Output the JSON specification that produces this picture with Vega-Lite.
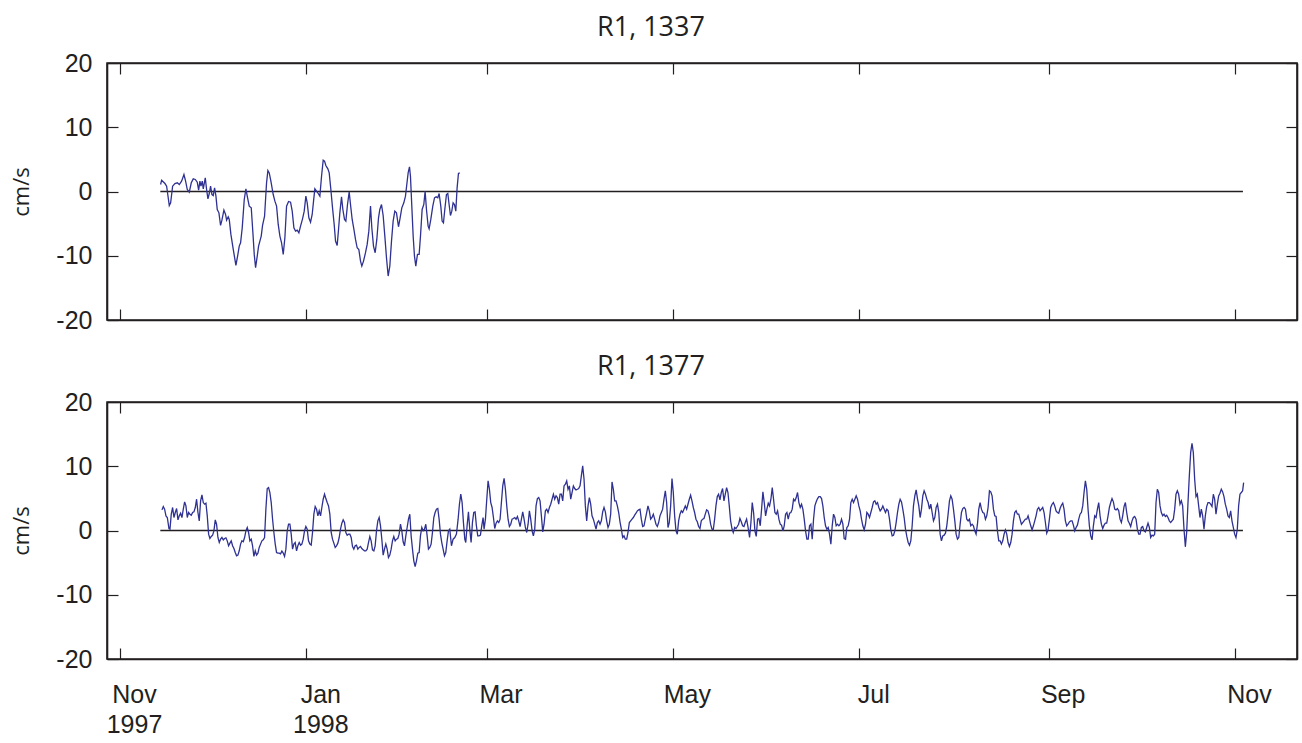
{
  "$schema": "https://vega.github.io/schema/vega-lite/v6.json",
  "background": "white",
  "padding": {"left": 10, "top": 13, "right": 4, "bottom": 4},
  "spacing": 18,
  "config": {
    "font": "Liberation Sans",
    "view": {"stroke": "#231F20", "strokeWidth": 1.6},
    "axis": {
      "grid": false,
      "domainColor": "#231F20",
      "domainWidth": 1.6,
      "tickColor": "#231F20",
      "tickWidth": 1.2,
      "tickSize": -11,
      "labelFont": "Liberation Sans",
      "labelFontSize": 25,
      "labelColor": "#231F20",
      "labelFlush": false,
      "labelOverlap": false,
      "titleFont": "Open Sans",
      "titleFontSize": 22,
      "titleFontWeight": "normal",
      "titleColor": "#231F20"
    },
    "title": {"font": "Open Sans", "fontSize": 27, "fontWeight": "normal", "color": "#231F20", "baseline": "alphabetic", "offset": 9, "dx": -51}
  },
  "datasets": {
    "zero_line": [{"start": 13.2, "end": 367.6, "level": 0}],
    "r1_1337": [
      {"day":13.30,"v":1.09},{"day":13.63,"v":1.76},{"day":14.72,"v":1.24},{"day":15.27,"v":0.83},{"day":16.14,"v":-2.18},{"day":16.58,"v":-1.76},{"day":17.23,"v":0.83},{"day":17.99,"v":1.24},{"day":18.76,"v":1.35},{"day":19.41,"v":1.09},{"day":20.17,"v":1.61},{"day":20.94,"v":2.64},{"day":21.48,"v":1.61},{"day":22.03,"v":0.31},{"day":22.68,"v":-0.10},{"day":23.34,"v":1.35},{"day":23.99,"v":1.97},{"day":24.65,"v":1.87},{"day":25.30,"v":1.45},{"day":25.74,"v":0.21},{"day":26.17,"v":1.61},{"day":26.50,"v":0.83},{"day":26.94,"v":1.61},{"day":27.26,"v":0.41},{"day":27.92,"v":2.12},{"day":28.35,"v":0.31},{"day":28.79,"v":-1.14},{"day":29.23,"v":-0.31},{"day":29.66,"v":0.83},{"day":30.10,"v":-0.47},{"day":30.53,"v":-0.62},{"day":30.97,"v":0.57},{"day":31.41,"v":-0.73},{"day":31.84,"v":-2.80},{"day":32.39,"v":-3.32},{"day":32.93,"v":-5.28},{"day":33.37,"v":-4.46},{"day":34.02,"v":-2.90},{"day":34.57,"v":-3.58},{"day":34.90,"v":-4.46},{"day":35.44,"v":-3.94},{"day":35.77,"v":-4.35},{"day":36.31,"v":-6.68},{"day":37.08,"v":-9.02},{"day":37.95,"v":-11.50},{"day":38.60,"v":-9.79},{"day":39.04,"v":-8.50},{"day":39.48,"v":-7.98},{"day":40.02,"v":-5.65},{"day":40.68,"v":-1.24},{"day":41.22,"v":0.41},{"day":41.66,"v":-0.73},{"day":42.31,"v":-2.28},{"day":42.97,"v":-2.54},{"day":43.51,"v":-6.42},{"day":43.95,"v":-9.79},{"day":44.39,"v":-11.87},{"day":44.93,"v":-10.05},{"day":45.37,"v":-8.50},{"day":45.80,"v":-7.72},{"day":46.24,"v":-6.94},{"day":46.67,"v":-5.28},{"day":47.33,"v":-3.83},{"day":47.98,"v":1.35},{"day":48.42,"v":3.26},{"day":48.86,"v":2.90},{"day":49.40,"v":1.61},{"day":50.16,"v":-0.47},{"day":50.71,"v":-1.50},{"day":51.26,"v":-2.28},{"day":51.80,"v":-5.13},{"day":52.35,"v":-6.94},{"day":52.89,"v":-7.98},{"day":53.44,"v":-9.79},{"day":53.98,"v":-7.20},{"day":54.53,"v":-2.28},{"day":55.18,"v":-1.55},{"day":55.84,"v":-1.66},{"day":56.38,"v":-3.06},{"day":56.93,"v":-5.65},{"day":57.47,"v":-6.17},{"day":58.02,"v":-6.01},{"day":58.56,"v":-6.42},{"day":59.11,"v":-5.39},{"day":59.76,"v":-4.25},{"day":60.31,"v":-3.06},{"day":60.85,"v":-0.73},{"day":61.29,"v":-1.76},{"day":61.83,"v":-4.09},{"day":62.38,"v":-4.77},{"day":62.92,"v":-3.58},{"day":63.36,"v":-1.50},{"day":63.79,"v":0.41},{"day":64.34,"v":0.05},{"day":64.89,"v":-0.31},{"day":65.43,"v":-0.73},{"day":65.98,"v":2.38},{"day":66.52,"v":4.87},{"day":66.96,"v":4.72},{"day":67.39,"v":4.04},{"day":68.05,"v":3.52},{"day":68.49,"v":2.90},{"day":69.03,"v":0.31},{"day":69.58,"v":-2.54},{"day":70.12,"v":-5.13},{"day":70.56,"v":-7.72},{"day":71.10,"v":-8.39},{"day":71.54,"v":-5.91},{"day":71.97,"v":-3.32},{"day":72.52,"v":-0.83},{"day":72.96,"v":-2.80},{"day":73.50,"v":-4.35},{"day":73.94,"v":-4.61},{"day":74.48,"v":-2.02},{"day":75.03,"v":-0.05},{"day":75.46,"v":-2.02},{"day":76.01,"v":-4.35},{"day":76.55,"v":-5.80},{"day":77.10,"v":-7.46},{"day":77.64,"v":-8.76},{"day":78.19,"v":-9.02},{"day":78.74,"v":-10.83},{"day":79.17,"v":-11.61},{"day":79.72,"v":-10.83},{"day":80.37,"v":-9.53},{"day":80.92,"v":-8.24},{"day":81.46,"v":-6.17},{"day":82.01,"v":-2.28},{"day":82.44,"v":-5.65},{"day":82.99,"v":-8.50},{"day":83.53,"v":-9.53},{"day":84.08,"v":-7.46},{"day":84.63,"v":-4.09},{"day":85.06,"v":-2.80},{"day":85.61,"v":-2.02},{"day":86.15,"v":-3.73},{"day":86.70,"v":-6.94},{"day":87.24,"v":-10.31},{"day":87.79,"v":-13.16},{"day":88.33,"v":-11.61},{"day":88.88,"v":-7.72},{"day":89.42,"v":-4.61},{"day":89.97,"v":-3.06},{"day":90.51,"v":-3.32},{"day":91.17,"v":-5.49},{"day":91.71,"v":-4.09},{"day":92.26,"v":-2.54},{"day":92.91,"v":-1.76},{"day":93.46,"v":-0.73},{"day":93.89,"v":1.09},{"day":94.33,"v":2.90},{"day":94.77,"v":3.83},{"day":95.09,"v":2.38},{"day":95.53,"v":-2.28},{"day":95.97,"v":-6.94},{"day":96.40,"v":-10.05},{"day":96.84,"v":-11.61},{"day":97.38,"v":-9.79},{"day":97.93,"v":-9.79},{"day":98.37,"v":-6.94},{"day":98.91,"v":-2.80},{"day":99.46,"v":-2.02},{"day":99.89,"v":0.05},{"day":100.33,"v":-2.80},{"day":100.87,"v":-5.39},{"day":101.20,"v":-5.80},{"day":101.75,"v":-4.35},{"day":102.40,"v":-2.28},{"day":102.96,"v":-0.98},{"day":103.49,"v":-0.83},{"day":104.04,"v":-0.98},{"day":104.47,"v":-0.31},{"day":105.02,"v":-2.28},{"day":105.45,"v":-4.61},{"day":105.89,"v":-4.87},{"day":106.33,"v":-2.80},{"day":106.87,"v":-0.47},{"day":107.31,"v":-0.31},{"day":107.74,"v":-2.02},{"day":108.18,"v":-3.73},{"day":108.62,"v":-3.06},{"day":109.05,"v":-1.76},{"day":109.49,"v":-2.02},{"day":109.93,"v":-3.06},{"day":110.36,"v":0.57},{"day":110.80,"v":2.80},{"day":111.23,"v":2.90}
    ],
    "r1_1377": [
      {"day":13.74,"v":3.21},{"day":14.18,"v":3.73},{"day":14.61,"v":3.32},{"day":15.05,"v":2.28},{"day":15.49,"v":2.02},{"day":16.03,"v":0.31},{"day":16.36,"v":0.21},{"day":16.79,"v":2.54},{"day":17.23,"v":3.58},{"day":17.67,"v":2.02},{"day":18.10,"v":2.80},{"day":18.54,"v":3.42},{"day":18.98,"v":1.66},{"day":19.41,"v":2.28},{"day":19.85,"v":2.69},{"day":20.28,"v":2.02},{"day":20.72,"v":3.32},{"day":21.16,"v":4.46},{"day":21.59,"v":3.83},{"day":22.03,"v":2.02},{"day":22.46,"v":2.80},{"day":22.90,"v":2.54},{"day":23.34,"v":2.38},{"day":23.77,"v":2.80},{"day":24.21,"v":2.90},{"day":24.65,"v":3.58},{"day":25.08,"v":4.87},{"day":25.52,"v":2.80},{"day":25.95,"v":1.50},{"day":26.39,"v":4.61},{"day":26.83,"v":5.54},{"day":27.26,"v":4.35},{"day":27.70,"v":4.09},{"day":28.14,"v":4.25},{"day":28.57,"v":2.28},{"day":29.01,"v":-0.57},{"day":29.44,"v":-1.24},{"day":29.88,"v":-0.93},{"day":30.32,"v":-0.73},{"day":30.75,"v":-0.05},{"day":31.19,"v":1.66},{"day":31.62,"v":0.98},{"day":32.06,"v":-1.09},{"day":32.50,"v":-1.87},{"day":32.93,"v":-1.35},{"day":33.37,"v":-1.09},{"day":33.81,"v":-1.45},{"day":34.24,"v":-1.24},{"day":34.68,"v":-1.14},{"day":35.11,"v":-1.61},{"day":35.55,"v":-2.38},{"day":35.99,"v":-1.97},{"day":36.42,"v":-1.61},{"day":36.86,"v":-2.38},{"day":37.30,"v":-2.80},{"day":37.73,"v":-3.42},{"day":38.17,"v":-3.94},{"day":38.60,"v":-3.83},{"day":39.04,"v":-3.16},{"day":39.48,"v":-2.12},{"day":39.91,"v":-1.61},{"day":40.35,"v":-1.76},{"day":40.79,"v":-1.09},{"day":41.22,"v":-0.05},{"day":41.66,"v":0.47},{"day":42.09,"v":-0.31},{"day":42.53,"v":-1.61},{"day":42.97,"v":-1.35},{"day":43.40,"v":-2.38},{"day":43.84,"v":-4.04},{"day":44.28,"v":-3.16},{"day":44.71,"v":-3.83},{"day":45.15,"v":-3.52},{"day":45.58,"v":-2.64},{"day":46.02,"v":-2.12},{"day":46.46,"v":-1.61},{"day":46.89,"v":-1.45},{"day":47.33,"v":-1.09},{"day":47.76,"v":3.32},{"day":48.20,"v":6.53},{"day":48.64,"v":6.68},{"day":49.07,"v":5.91},{"day":49.51,"v":4.35},{"day":49.95,"v":1.76},{"day":50.38,"v":-0.31},{"day":50.82,"v":-2.12},{"day":51.25,"v":-3.42},{"day":51.69,"v":-3.52},{"day":52.13,"v":-3.52},{"day":52.56,"v":-3.63},{"day":53.00,"v":-3.21},{"day":53.44,"v":-3.52},{"day":53.87,"v":-4.04},{"day":54.31,"v":-2.90},{"day":54.74,"v":-0.05},{"day":55.18,"v":0.98},{"day":55.62,"v":0.98},{"day":56.05,"v":-0.57},{"day":56.49,"v":-2.90},{"day":56.92,"v":-2.12},{"day":57.36,"v":-1.87},{"day":57.80,"v":-3.16},{"day":58.23,"v":-2.38},{"day":58.67,"v":-1.87},{"day":59.11,"v":-2.28},{"day":59.54,"v":-2.12},{"day":59.98,"v":-1.35},{"day":60.41,"v":-0.05},{"day":60.85,"v":0.62},{"day":61.29,"v":0.21},{"day":61.72,"v":-1.61},{"day":62.16,"v":-2.12},{"day":62.60,"v":-2.28},{"day":63.03,"v":-0.31},{"day":63.47,"v":2.54},{"day":63.90,"v":3.73},{"day":64.34,"v":3.32},{"day":64.78,"v":2.28},{"day":65.21,"v":3.06},{"day":65.65,"v":2.28},{"day":66.08,"v":3.58},{"day":66.52,"v":4.87},{"day":66.96,"v":5.65},{"day":67.39,"v":4.97},{"day":67.83,"v":4.35},{"day":68.27,"v":3.83},{"day":68.70,"v":2.54},{"day":69.14,"v":-0.31},{"day":69.57,"v":-1.35},{"day":70.01,"v":-1.97},{"day":70.45,"v":-2.64},{"day":70.88,"v":-2.38},{"day":71.32,"v":-1.97},{"day":71.76,"v":-1.09},{"day":72.19,"v":0.21},{"day":72.63,"v":1.14},{"day":73.06,"v":1.66},{"day":73.50,"v":1.24},{"day":73.94,"v":-0.31},{"day":74.37,"v":-0.73},{"day":74.81,"v":-0.57},{"day":75.25,"v":-0.57},{"day":75.68,"v":-1.09},{"day":76.12,"v":-2.49},{"day":76.55,"v":-2.90},{"day":76.99,"v":-2.38},{"day":77.43,"v":-2.28},{"day":77.86,"v":-2.90},{"day":78.30,"v":-2.64},{"day":78.74,"v":-2.49},{"day":79.17,"v":-2.80},{"day":79.61,"v":-3.01},{"day":80.04,"v":-3.16},{"day":80.48,"v":-3.16},{"day":80.92,"v":-2.90},{"day":81.35,"v":-1.87},{"day":81.79,"v":-0.93},{"day":82.22,"v":-1.61},{"day":82.66,"v":-3.01},{"day":83.10,"v":-3.16},{"day":83.53,"v":-2.38},{"day":83.97,"v":-0.05},{"day":84.41,"v":1.50},{"day":84.84,"v":2.02},{"day":85.28,"v":0.73},{"day":85.71,"v":-1.35},{"day":86.15,"v":-3.83},{"day":86.59,"v":-2.90},{"day":87.02,"v":-2.12},{"day":87.46,"v":-2.90},{"day":87.89,"v":-4.20},{"day":88.33,"v":-3.83},{"day":88.77,"v":-2.90},{"day":89.20,"v":-1.61},{"day":89.64,"v":-0.93},{"day":90.08,"v":-1.61},{"day":90.51,"v":-1.35},{"day":90.95,"v":-1.24},{"day":91.38,"v":-0.57},{"day":91.82,"v":0.98},{"day":92.26,"v":-0.05},{"day":92.69,"v":-1.76},{"day":93.13,"v":-2.38},{"day":93.57,"v":-0.83},{"day":94.00,"v":0.47},{"day":94.44,"v":1.76},{"day":94.87,"v":2.54},{"day":95.31,"v":-0.83},{"day":95.75,"v":-2.90},{"day":96.18,"v":-4.72},{"day":96.62,"v":-5.60},{"day":97.06,"v":-4.72},{"day":97.49,"v":-3.52},{"day":97.93,"v":-3.42},{"day":98.36,"v":-0.83},{"day":98.80,"v":0.47},{"day":99.24,"v":-0.05},{"day":99.67,"v":0.21},{"day":100.11,"v":0.98},{"day":100.55,"v":-0.83},{"day":100.98,"v":-2.90},{"day":101.42,"v":-2.64},{"day":101.85,"v":-2.12},{"day":102.29,"v":-0.31},{"day":102.73,"v":2.02},{"day":103.16,"v":2.80},{"day":103.60,"v":3.32},{"day":104.04,"v":3.42},{"day":104.47,"v":1.76},{"day":104.91,"v":-0.57},{"day":105.34,"v":-1.87},{"day":105.78,"v":-2.90},{"day":106.22,"v":-3.94},{"day":106.65,"v":-3.42},{"day":107.09,"v":-1.61},{"day":107.53,"v":-0.05},{"day":107.96,"v":0.21},
      {"day":108.51,"v":-2.38},{"day":109.05,"v":-1.35},{"day":109.60,"v":-1.09},{"day":110.14,"v":-0.57},{"day":110.69,"v":1.76},{"day":111.12,"v":4.09},{"day":111.56,"v":5.65},{"day":112.00,"v":4.35},{"day":112.43,"v":1.24},{"day":112.87,"v":-1.35},{"day":113.19,"v":-1.87},{"day":113.63,"v":0.73},{"day":114.07,"v":2.90},{"day":114.50,"v":0.21},{"day":114.94,"v":-1.87},{"day":115.38,"v":1.24},{"day":115.81,"v":2.80},{"day":116.25,"v":2.90},{"day":116.68,"v":0.73},{"day":117.12,"v":-0.83},{"day":117.56,"v":-0.83},{"day":117.99,"v":-0.73},{"day":118.43,"v":0.73},{"day":118.86,"v":2.02},{"day":119.19,"v":0.21},{"day":119.63,"v":1.76},{"day":120.07,"v":4.87},{"day":120.50,"v":7.72},{"day":120.94,"v":6.42},{"day":121.37,"v":4.35},{"day":121.81,"v":3.58},{"day":122.25,"v":2.02},{"day":122.68,"v":0.31},{"day":123.12,"v":1.14},{"day":123.55,"v":1.50},{"day":123.99,"v":1.24},{"day":124.43,"v":1.76},{"day":124.86,"v":4.35},{"day":125.30,"v":6.94},{"day":125.74,"v":8.13},{"day":126.17,"v":6.42},{"day":126.61,"v":3.83},{"day":127.04,"v":1.76},{"day":127.48,"v":0.62},{"day":127.92,"v":0.98},{"day":128.35,"v":1.76},{"day":128.79,"v":1.87},{"day":129.23,"v":2.02},{"day":129.66,"v":1.76},{"day":130.10,"v":2.18},{"day":130.53,"v":1.50},{"day":130.97,"v":0.62},{"day":131.41,"v":1.76},{"day":131.84,"v":2.90},{"day":132.28,"v":1.76},{"day":132.71,"v":0.47},{"day":133.15,"v":-0.31},{"day":133.59,"v":0.98},{"day":134.02,"v":3.06},{"day":134.46,"v":1.76},{"day":134.90,"v":-0.05},{"day":135.33,"v":-0.83},{"day":135.77,"v":0.21},{"day":136.20,"v":3.83},{"day":136.64,"v":4.97},{"day":137.08,"v":5.13},{"day":137.51,"v":4.61},{"day":137.95,"v":2.28},{"day":138.39,"v":-0.21},{"day":138.82,"v":0.98},{"day":139.26,"v":3.06},{"day":139.69,"v":3.32},{"day":140.13,"v":2.80},{"day":140.57,"v":3.58},{"day":141.00,"v":4.09},{"day":141.44,"v":4.87},{"day":141.88,"v":5.65},{"day":142.31,"v":4.87},{"day":142.75,"v":5.39},{"day":143.18,"v":5.13},{"day":143.62,"v":4.09},{"day":144.06,"v":5.65},{"day":144.49,"v":5.65},{"day":144.93,"v":4.61},{"day":145.36,"v":6.94},{"day":145.80,"v":7.20},{"day":146.24,"v":7.72},{"day":146.67,"v":6.42},{"day":147.11,"v":6.94},{"day":147.55,"v":4.87},{"day":147.98,"v":5.91},{"day":148.42,"v":6.94},{"day":148.85,"v":6.53},{"day":149.29,"v":6.32},{"day":149.73,"v":6.42},{"day":150.16,"v":6.53},{"day":150.60,"v":6.94},{"day":151.03,"v":8.50},{"day":151.47,"v":10.05},{"day":151.91,"v":7.98},{"day":152.34,"v":3.83},{"day":152.78,"v":1.50},{"day":153.22,"v":3.83},{"day":153.65,"v":5.13},{"day":154.09,"v":4.09},{"day":154.52,"v":2.28},{"day":154.96,"v":1.76},{"day":155.40,"v":0.98},{"day":155.83,"v":0.21},{"day":156.27,"v":1.24},{"day":156.71,"v":1.50},{"day":157.14,"v":0.98},{"day":157.58,"v":1.50},{"day":158.01,"v":2.90},{"day":158.45,"v":3.58},{"day":158.89,"v":2.90},{"day":159.32,"v":1.50},{"day":159.76,"v":0.47},{"day":160.19,"v":0.98},{"day":160.63,"v":2.54},{"day":161.07,"v":7.56},{"day":161.50,"v":6.42},{"day":161.94,"v":4.61},{"day":162.38,"v":4.61},{"day":162.81,"v":3.83},{"day":163.25,"v":2.80},{"day":163.68,"v":1.35},{"day":164.12,"v":0.21},{"day":164.56,"v":-1.09},{"day":164.99,"v":-0.83},{"day":165.43,"v":-1.35},{"day":165.87,"v":-1.35},{"day":166.30,"v":-0.31},{"day":166.74,"v":1.24},{"day":167.17,"v":1.50},{"day":167.61,"v":1.76},{"day":168.05,"v":2.02},{"day":168.48,"v":2.38},{"day":168.92,"v":2.69},{"day":169.36,"v":3.06},{"day":169.79,"v":3.21},{"day":170.23,"v":3.32},{"day":170.66,"v":1.76},{"day":171.10,"v":0.62},{"day":171.54,"v":0.73},{"day":171.97,"v":1.76},{"day":172.41,"v":2.80},{"day":172.84,"v":3.83},{"day":173.28,"v":3.06},{"day":173.72,"v":1.76},{"day":174.15,"v":2.02},{"day":174.59,"v":2.54},{"day":175.03,"v":1.76},{"day":175.46,"v":0.98},{"day":175.90,"v":0.62},{"day":176.33,"v":1.24},{"day":176.77,"v":2.28},{"day":177.21,"v":2.80},{"day":177.64,"v":3.32},{"day":178.08,"v":4.87},{"day":178.52,"v":6.17},{"day":178.95,"v":4.35},{"day":179.39,"v":0.47},{"day":179.82,"v":1.24},{"day":180.26,"v":3.83},{"day":180.70,"v":8.08},{"day":181.13,"v":5.91},{"day":181.57,"v":2.28},{"day":182.01,"v":-0.05},{"day":182.44,"v":-0.57},{"day":182.88,"v":1.50},{"day":183.31,"v":2.54},{"day":183.75,"v":3.06},{"day":184.19,"v":2.80},{"day":184.62,"v":3.32},{"day":185.06,"v":3.83},{"day":185.50,"v":3.32},{"day":185.93,"v":4.09},{"day":186.37,"v":4.87},{"day":186.80,"v":5.49},{"day":187.24,"v":4.61},{"day":187.68,"v":3.58},{"day":188.11,"v":2.80},{"day":188.55,"v":1.76},{"day":188.99,"v":1.35},{"day":189.42,"v":0.62},{"day":189.86,"v":0.31},{"day":190.29,"v":1.50},{"day":190.73,"v":1.76},{"day":191.17,"v":1.87},{"day":191.60,"v":2.54},{"day":192.04,"v":3.21},{"day":192.47,"v":3.06},{"day":192.91,"v":2.28},{"day":193.35,"v":0.98},{"day":193.78,"v":0.21},{"day":194.22,"v":0.10},{"day":194.66,"v":1.76},{"day":195.09,"v":3.83},{"day":195.53,"v":5.28},{"day":195.96,"v":5.65},{"day":196.40,"v":4.77},{"day":196.84,"v":5.91},{"day":197.27,"v":6.53},{"day":197.71,"v":4.61},{"day":198.15,"v":5.65},{"day":198.58,"v":6.68},{"day":199.02,"v":5.91},{"day":199.45,"v":3.83},{"day":199.89,"v":1.50},{"day":200.33,"v":0.31},{"day":200.76,"v":-0.31},{"day":201.20,"v":0.47},{"day":201.64,"v":0.31},{"day":202.07,"v":0.62},{"day":202.51,"v":0.98},{"day":202.94,"v":1.87},{"day":203.38,"v":1.35},{"day":203.82,"v":0.73},{"day":204.25,"v":0.62},{"day":204.69,"v":1.24},{"day":205.13,"v":1.76},{"day":205.56,"v":0.62},
      {"day":206.10,"v":-1.09},{"day":206.54,"v":1.24},{"day":206.97,"v":4.35},{"day":207.41,"v":2.80},{"day":207.85,"v":-0.05},{"day":208.28,"v":-0.93},{"day":208.72,"v":1.76},{"day":209.16,"v":1.87},{"day":209.59,"v":0.73},{"day":210.03,"v":3.32},{"day":210.46,"v":6.01},{"day":210.90,"v":4.35},{"day":211.34,"v":2.28},{"day":211.77,"v":3.32},{"day":212.21,"v":4.25},{"day":212.64,"v":3.83},{"day":213.08,"v":4.87},{"day":213.52,"v":6.68},{"day":213.95,"v":4.87},{"day":214.39,"v":2.80},{"day":214.83,"v":2.54},{"day":215.26,"v":3.06},{"day":215.70,"v":1.76},{"day":216.13,"v":0.98},{"day":216.57,"v":0.83},{"day":217.01,"v":-0.05},{"day":217.44,"v":0.73},{"day":217.88,"v":2.54},{"day":218.31,"v":2.80},{"day":218.75,"v":1.76},{"day":219.19,"v":2.69},{"day":219.62,"v":2.80},{"day":220.06,"v":3.32},{"day":220.50,"v":4.87},{"day":220.93,"v":4.61},{"day":221.37,"v":5.13},{"day":221.80,"v":5.91},{"day":222.24,"v":4.35},{"day":222.68,"v":3.58},{"day":223.11,"v":4.09},{"day":223.55,"v":3.32},{"day":223.99,"v":1.76},{"day":224.42,"v":-0.05},{"day":224.86,"v":-1.35},{"day":225.29,"v":-1.35},{"day":225.73,"v":0.73},{"day":226.17,"v":0.98},{"day":226.60,"v":-1.35},{"day":227.04,"v":1.76},{"day":227.47,"v":3.83},{"day":227.91,"v":4.46},{"day":228.35,"v":4.97},{"day":228.78,"v":5.28},{"day":229.22,"v":5.28},{"day":229.66,"v":4.97},{"day":230.09,"v":3.83},{"day":230.53,"v":2.02},{"day":230.96,"v":0.73},{"day":231.40,"v":0.21},{"day":231.84,"v":0.47},{"day":232.27,"v":-0.57},{"day":232.71,"v":-2.12},{"day":233.15,"v":0.73},{"day":233.58,"v":2.54},{"day":234.02,"v":2.02},{"day":234.45,"v":0.73},{"day":234.89,"v":0.98},{"day":235.33,"v":0.73},{"day":235.76,"v":0.98},{"day":236.20,"v":1.76},{"day":236.64,"v":0.98},{"day":237.07,"v":-1.24},{"day":237.51,"v":-1.35},{"day":237.94,"v":0.47},{"day":238.38,"v":0.73},{"day":238.82,"v":1.76},{"day":239.25,"v":4.35},{"day":239.69,"v":4.87},{"day":240.12,"v":4.35},{"day":240.56,"v":4.87},{"day":241.00,"v":5.39},{"day":241.43,"v":4.87},{"day":241.87,"v":3.83},{"day":242.31,"v":3.06},{"day":242.74,"v":1.76},{"day":243.18,"v":0.73},{"day":243.61,"v":0.10},{"day":244.05,"v":0.98},{"day":244.49,"v":2.80},{"day":244.92,"v":2.54},{"day":245.36,"v":2.02},{"day":245.80,"v":2.80},{"day":246.23,"v":3.58},{"day":246.67,"v":4.46},{"day":247.10,"v":4.61},{"day":247.54,"v":4.09},{"day":247.98,"v":4.35},{"day":248.41,"v":3.58},{"day":248.85,"v":3.06},{"day":249.28,"v":3.32},{"day":249.72,"v":3.83},{"day":250.16,"v":3.32},{"day":250.59,"v":2.80},{"day":251.03,"v":3.32},{"day":251.47,"v":3.06},{"day":251.90,"v":1.76},{"day":252.34,"v":0.10},{"day":252.77,"v":-0.83},{"day":253.21,"v":-0.73},{"day":253.65,"v":-0.05},{"day":254.08,"v":1.24},{"day":254.52,"v":2.80},{"day":254.96,"v":4.09},{"day":255.39,"v":4.87},{"day":255.83,"v":4.46},{"day":256.26,"v":3.32},{"day":256.70,"v":2.02},{"day":257.14,"v":0.21},{"day":257.57,"v":-0.93},{"day":258.01,"v":-1.87},{"day":258.45,"v":-2.28},{"day":258.88,"v":-1.61},{"day":259.32,"v":0.73},{"day":259.75,"v":3.83},{"day":260.19,"v":5.39},{"day":260.63,"v":6.32},{"day":261.06,"v":4.97},{"day":261.50,"v":3.83},{"day":261.93,"v":2.02},{"day":262.37,"v":3.32},{"day":262.81,"v":5.39},{"day":263.24,"v":6.17},{"day":263.68,"v":5.65},{"day":264.12,"v":4.87},{"day":264.55,"v":4.35},{"day":264.99,"v":3.32},{"day":265.42,"v":4.09},{"day":265.86,"v":2.80},{"day":266.30,"v":1.50},{"day":266.73,"v":2.02},{"day":267.17,"v":3.58},{"day":267.61,"v":4.09},{"day":268.04,"v":2.80},{"day":268.48,"v":-0.57},{"day":268.91,"v":-1.61},{"day":269.35,"v":-0.83},{"day":269.79,"v":-0.73},{"day":270.22,"v":-0.41},{"day":270.66,"v":0.73},{"day":271.09,"v":2.54},{"day":271.53,"v":4.61},{"day":271.97,"v":5.39},{"day":272.40,"v":4.87},{"day":272.84,"v":3.32},{"day":273.28,"v":1.50},{"day":273.71,"v":-0.57},{"day":274.15,"v":-1.35},{"day":274.58,"v":-1.09},{"day":275.02,"v":0.98},{"day":275.46,"v":2.80},{"day":275.89,"v":3.42},{"day":276.33,"v":3.58},{"day":276.77,"v":3.32},{"day":277.20,"v":1.76},{"day":277.64,"v":1.50},{"day":278.07,"v":1.76},{"day":278.51,"v":0.73},{"day":278.95,"v":0.98},{"day":279.38,"v":0.73},{"day":279.82,"v":-0.05},{"day":280.25,"v":-0.57},{"day":280.69,"v":0.98},{"day":281.13,"v":3.32},{"day":281.56,"v":4.35},{"day":282.00,"v":3.32},{"day":282.44,"v":2.80},{"day":282.87,"v":2.69},{"day":283.31,"v":1.76},{"day":283.74,"v":2.28},{"day":284.18,"v":3.58},{"day":284.62,"v":6.17},{"day":285.05,"v":6.01},{"day":285.49,"v":5.39},{"day":285.93,"v":3.32},{"day":286.36,"v":2.28},{"day":286.80,"v":2.18},{"day":287.23,"v":-0.05},{"day":287.67,"v":-1.61},{"day":288.11,"v":-1.61},{"day":288.54,"v":-2.12},{"day":288.98,"v":-1.61},{"day":289.41,"v":-0.57},{"day":289.85,"v":0.10},{"day":290.29,"v":-0.57},{"day":290.72,"v":-1.87},{"day":291.16,"v":-2.49},{"day":291.60,"v":-1.87},{"day":292.03,"v":-0.57},{"day":292.47,"v":1.50},{"day":292.90,"v":2.80},{"day":293.34,"v":3.06},{"day":293.78,"v":2.54},{"day":294.21,"v":2.54},{"day":294.65,"v":1.76},{"day":295.09,"v":0.98},{"day":295.52,"v":1.24},{"day":295.96,"v":1.50},{"day":296.39,"v":1.76},{"day":296.83,"v":1.76},{"day":297.27,"v":2.28},{"day":297.70,"v":1.50},{"day":298.14,"v":0.73},{"day":298.58,"v":0.10},{"day":299.01,"v":0.73},{"day":299.45,"v":1.50},{"day":299.88,"v":2.28},{"day":300.32,"v":3.32},{"day":300.76,"v":3.58},{"day":301.19,"v":3.06},{"day":301.63,"v":3.32},{"day":302.06,"v":3.58},{"day":302.50,"v":2.80},{"day":302.94,"v":1.24},{"day":303.37,"v":-0.41},{"day":303.81,"v":0.10},{"day":304.25,"v":1.76},{"day":304.68,"v":3.58},{"day":305.12,"v":4.09},{"day":305.55,"v":4.35},{"day":305.99,"v":3.83},{"day":306.43,"v":3.06},{"day":306.86,"v":2.80},{"day":307.30,"v":2.69},{"day":307.74,"v":3.42},{"day":308.17,"v":3.94},{"day":308.61,"v":4.25},{"day":309.04,"v":3.32},{"day":309.48,"v":1.50},{"day":309.92,"v":0.73},{"day":310.35,"v":0.98},{"day":310.79,"v":1.35},
      {"day":311.23,"v":1.50},{"day":311.67,"v":1.50},{"day":312.10,"v":0.83},{"day":312.54,"v":-0.05},{"day":312.98,"v":0.47},{"day":313.41,"v":0.83},{"day":313.85,"v":1.76},{"day":314.28,"v":2.54},{"day":314.72,"v":2.80},{"day":315.16,"v":3.83},{"day":315.59,"v":5.91},{"day":316.03,"v":7.72},{"day":316.47,"v":6.42},{"day":316.90,"v":3.32},{"day":317.34,"v":0.73},{"day":317.77,"v":-0.83},{"day":318.21,"v":-1.45},{"day":318.65,"v":0.73},{"day":319.08,"v":2.28},{"day":319.52,"v":2.02},{"day":319.96,"v":3.32},{"day":320.39,"v":4.35},{"day":320.83,"v":2.28},{"day":321.26,"v":0.98},{"day":321.70,"v":0.31},{"day":322.14,"v":0.83},{"day":322.57,"v":1.14},{"day":323.01,"v":1.14},{"day":323.45,"v":2.28},{"day":323.88,"v":3.58},{"day":324.32,"v":4.35},{"day":324.75,"v":4.97},{"day":325.19,"v":4.46},{"day":325.63,"v":3.32},{"day":326.06,"v":3.21},{"day":326.50,"v":3.42},{"day":326.94,"v":3.06},{"day":327.37,"v":1.76},{"day":327.81,"v":1.24},{"day":328.24,"v":2.28},{"day":328.68,"v":3.73},{"day":329.12,"v":4.35},{"day":329.55,"v":2.80},{"day":329.99,"v":1.50},{"day":330.42,"v":1.14},{"day":330.86,"v":0.62},{"day":331.30,"v":1.50},{"day":331.73,"v":2.02},{"day":332.17,"v":2.18},{"day":332.61,"v":1.76},{"day":333.04,"v":0.21},{"day":333.48,"v":-0.57},{"day":333.92,"v":-0.57},{"day":334.35,"v":0.47},{"day":334.79,"v":0.62},{"day":335.22,"v":-0.05},{"day":335.66,"v":-0.21},{"day":336.10,"v":0.47},{"day":336.53,"v":1.14},{"day":336.97,"v":0.47},{"day":337.40,"v":-1.09},{"day":337.84,"v":-0.73},{"day":338.28,"v":-0.83},{"day":338.71,"v":-0.57},{"day":339.15,"v":4.35},{"day":339.58,"v":6.42},{"day":340.02,"v":5.91},{"day":340.46,"v":3.83},{"day":340.89,"v":2.80},{"day":341.33,"v":2.28},{"day":341.77,"v":2.54},{"day":342.20,"v":2.18},{"day":342.64,"v":2.38},{"day":343.07,"v":2.02},{"day":343.51,"v":1.50},{"day":343.95,"v":1.24},{"day":344.38,"v":1.50},{"day":344.82,"v":1.76},{"day":345.26,"v":3.32},{"day":345.69,"v":5.65},{"day":346.13,"v":6.17},{"day":346.56,"v":5.65},{"day":347.00,"v":4.09},{"day":347.44,"v":4.61},{"day":347.87,"v":3.83},{"day":348.31,"v":0.21},{"day":348.75,"v":-2.54},{"day":349.18,"v":-0.31},{"day":349.62,"v":4.35},{"day":350.05,"v":8.50},{"day":350.49,"v":12.12},{"day":350.93,"v":13.58},{"day":351.36,"v":12.12},{"day":351.80,"v":7.98},{"day":352.24,"v":5.28},{"day":352.67,"v":5.65},{"day":353.11,"v":3.83},{"day":353.54,"v":2.02},{"day":353.98,"v":3.32},{"day":354.42,"v":2.28},{"day":354.85,"v":0.21},{"day":355.29,"v":2.28},{"day":355.73,"v":3.73},{"day":356.16,"v":4.35},{"day":356.60,"v":4.35},{"day":357.03,"v":4.09},{"day":357.47,"v":3.73},{"day":357.91,"v":5.65},{"day":358.34,"v":4.87},{"day":358.78,"v":2.54},{"day":359.22,"v":4.09},{"day":359.65,"v":5.39},{"day":360.09,"v":5.80},{"day":360.52,"v":6.42},{"day":360.96,"v":6.01},{"day":361.40,"v":5.28},{"day":361.83,"v":4.09},{"day":362.27,"v":3.32},{"day":362.71,"v":2.28},{"day":363.14,"v":2.02},{"day":363.58,"v":3.06},{"day":364.01,"v":1.50},{"day":364.45,"v":0.47},{"day":364.89,"v":-0.57},{"day":365.32,"v":-1.09},{"day":365.76,"v":0.21},{"day":366.19,"v":3.83},{"day":366.63,"v":5.65},{"day":367.07,"v":5.91},{"day":367.50,"v":6.17},{"day":367.83,"v":7.46}
    ]
  },
  "vconcat": [
    {
      "title": {"text": "R1, 1337"},
      "width": 1190,
      "height": 257,
      "layer": [
        {
          "data": {"name": "zero_line"},
          "mark": {"type": "rule", "color": "#231F20", "strokeWidth": 1.3},
          "encoding": {
            "x": {"field": "start", "type": "quantitative", "scale": {"domain": [-4.25, 385.3], "nice": false, "zero": false},
                  "axis": {"orient": "bottom", "values": [0, 61, 120, 181, 242, 304, 365], "labels": false, "title": null}},
            "x2": {"field": "end"},
            "y": {"field": "level", "type": "quantitative", "scale": {"domain": [-20, 20], "nice": false},
                  "axis": {"orient": "left", "values": [-20, -10, 0, 10, 20], "labelExpr": "'' + datum.value", "labelPadding": 26, "title": "cm/s", "titlePadding": 22}}
          }
        },
        {
          "data": {"name": "r1_1337"},
          "mark": {"type": "line", "color": "#2E3192", "strokeWidth": 1.3},
          "encoding": {
            "x": {"field": "day", "type": "quantitative", "scale": {"domain": [-4.25, 385.3], "nice": false, "zero": false},
                  "axis": {"orient": "top", "values": [0, 61, 120, 181, 242, 304, 365], "labels": false, "title": null}},
            "y": {"field": "v", "type": "quantitative", "scale": {"domain": [-20, 20], "nice": false},
                  "axis": {"orient": "right", "values": [-20, -10, 0, 10, 20], "labels": false, "title": null}}
          }
        }
      ],
      "resolve": {"axis": {"x": "independent", "y": "independent"}}
    },
    {
      "title": {"text": "R1, 1377"},
      "width": 1190,
      "height": 257,
      "layer": [
        {
          "data": {"name": "zero_line"},
          "mark": {"type": "rule", "color": "#231F20", "strokeWidth": 1.3},
          "encoding": {
            "x": {"field": "start", "type": "quantitative", "scale": {"domain": [-4.25, 385.3], "nice": false, "zero": false},
                  "axis": {"orient": "bottom", "values": [0, 61, 120, 181, 242, 304, 365], "title": null, "labelPadding": 34, "labelOffset": 14, "labelLineHeight": 30,
                           "labelExpr": "datum.value == 0 ? ['Nov', '1997'] : datum.value == 61 ? ['Jan', '1998'] : datum.value == 120 ? 'Mar' : datum.value == 181 ? 'May' : datum.value == 242 ? 'Jul' : datum.value == 304 ? 'Sep' : 'Nov'"}},
            "x2": {"field": "end"},
            "y": {"field": "level", "type": "quantitative", "scale": {"domain": [-20, 20], "nice": false},
                  "axis": {"orient": "left", "values": [-20, -10, 0, 10, 20], "labelExpr": "'' + datum.value", "labelPadding": 26, "title": "cm/s", "titlePadding": 22}}
          }
        },
        {
          "data": {"name": "r1_1377"},
          "mark": {"type": "line", "color": "#2E3192", "strokeWidth": 1.3},
          "encoding": {
            "x": {"field": "day", "type": "quantitative", "scale": {"domain": [-4.25, 385.3], "nice": false, "zero": false},
                  "axis": {"orient": "top", "values": [0, 61, 120, 181, 242, 304, 365], "labels": false, "title": null}},
            "y": {"field": "v", "type": "quantitative", "scale": {"domain": [-20, 20], "nice": false},
                  "axis": {"orient": "right", "values": [-20, -10, 0, 10, 20], "labels": false, "title": null}}
          }
        }
      ],
      "resolve": {"axis": {"x": "independent", "y": "independent"}}
    }
  ]
}
